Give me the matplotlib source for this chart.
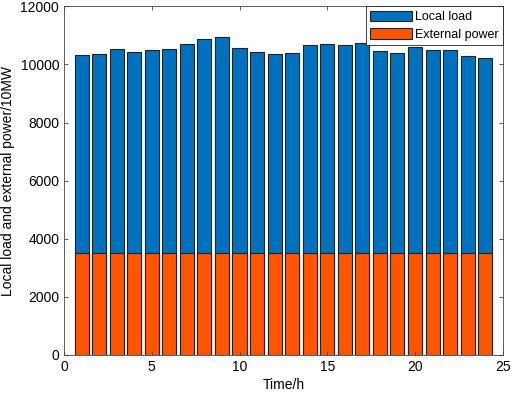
import matplotlib.pyplot as plt
import numpy as np

plt.rcParams['font.family'] = ['Liberation Sans', 'DejaVu Sans']

hours = np.arange(1, 25)
local_load = [10320, 10350, 10520, 10430, 10500, 10520, 10700, 10870, 10950, 10560,
              10420, 10360, 10410, 10680, 10700, 10660, 10730, 10470, 10380, 10610,
              10510, 10490, 10290, 10230]
external_power = [3500] * 24

fig = plt.figure(figsize=(5.12, 3.97), dpi=100)
ax = fig.add_axes([0.125, 0.106, 0.857, 0.878])

ax.bar(hours, local_load, width=0.8, color='#0072BD', edgecolor='#222222',
       linewidth=0.8, label='Local load')
ax.bar(hours, external_power, width=0.8, color='#FF5500', edgecolor='#222222',
       linewidth=0.8, label='External power')

ax.set_xlim(0, 25)
ax.set_ylim(0, 12000)
ax.set_xticks([0, 5, 10, 15, 20, 25])
ax.set_yticks(np.arange(0, 12001, 2000))
ax.tick_params(direction='in', top=True, right=True, labelsize=10, length=3,
               color='#444444', width=0.6)
for s in ax.spines.values():
    s.set_color('#444444')
    s.set_linewidth(0.6)

ax.set_xlabel('Time/h', fontsize=10, labelpad=3)
ax.set_ylabel('Local load and external power/10MW', fontsize=10, labelpad=4)

leg = ax.legend(loc='upper right', fontsize=9, fancybox=False, framealpha=1,
                edgecolor='#222222', borderaxespad=0.0, handlelength=3.3,
                handleheight=0.9, handletextpad=0.25, labelspacing=0.4,
                borderpad=0.35)
leg.get_frame().set_linewidth(0.6)

fig.savefig('out.png', dpi=100)
